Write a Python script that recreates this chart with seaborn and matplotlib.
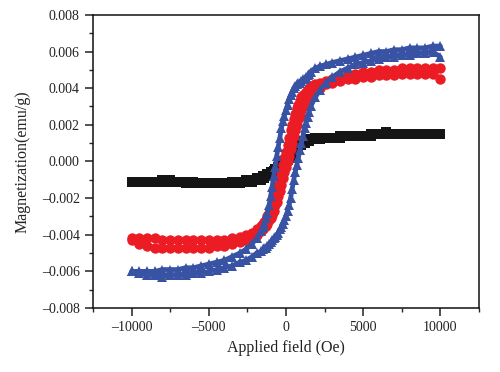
import matplotlib
matplotlib.use("Agg")
import matplotlib.pyplot as plt
import seaborn as sns
import pandas as pd
from matplotlib.ticker import MultipleLocator, FixedLocator, FixedFormatter

# ---------------- data ----------------
field_down = [10000, 9500, 9000, 8500, 8000, 7500, 7000, 6500, 6000, 5500, 5000, 4500, 4000, 3500, 3000, 2600, 2200, 1900,
              1600, 1500, 1400, 1300, 1200, 1100, 1000, 900, 800, 700, 600, 500, 400, 300, 200, 100, 0,
              -100, -200, -300, -400, -500, -600, -700, -800, -900, -1000, -1100, -1200, -1300, -1400, -1500, -1600,
              -1900, -2200, -2600, -3000, -3500, -4000, -4500, -5000, -5500, -6000, -6500, -7000, -7500, -8000, -8500, -9000, -9500, -10000]
field_up = [-10000, -9500, -9000, -8500, -8000, -7500, -7000, -6500, -6000, -5500, -5000, -4500, -4000, -3500, -3000, -2600, -2200, -1900,
            -1600, -1500, -1400, -1300, -1200, -1100, -1000, -900, -800, -700, -600, -500, -400, -300, -200, -100, 0,
            100, 200, 300, 400, 500, 600, 700, 800, 900, 1000, 1100, 1200, 1300, 1400, 1500, 1600,
            1900, 2200, 2600, 3000, 3500, 4000, 4500, 5000, 5500, 6000, 6500, 7000, 7500, 8000, 8500, 9000, 9500, 10000]

black_down = [0.0015, 0.0015, 0.0015, 0.0015, 0.0015, 0.0015, 0.0015, 0.0015, 0.0015, 0.0015, 0.0014, 0.0014, 0.0014, 0.0014, 0.0013, 0.0013, 0.0013, 0.0013,
              0.0012, 0.0012, 0.0012, 0.0012, 0.0011, 0.0011, 0.0010, 0.0010, 0.0009, 0.0008, 0.0007, 0.0006, 0.0005, 0.0004, 0.0003, 0.0002, 0.0001,
              0.0000, -0.0001, -0.0002, -0.0002, -0.0003, -0.0004, -0.0004, -0.0005, -0.0006, -0.0006, -0.0007, -0.0007, -0.0008, -0.0008, -0.0008, -0.0009,
              -0.0009, -0.0010, -0.0010, -0.0011, -0.0011, -0.0012, -0.0012, -0.0012, -0.0012, -0.0011, -0.0011, -0.0011, -0.0010, -0.0010, -0.0011, -0.0011, -0.0011, -0.0011]
black_up = [-0.0011, -0.0011, -0.0011, -0.0011, -0.0011, -0.0011, -0.0011, -0.0012, -0.0012, -0.0012, -0.0012, -0.0012, -0.0012, -0.0012, -0.0012, -0.0011, -0.0011, -0.0010,
            -0.0010, -0.0009, -0.0009, -0.0008, -0.0008, -0.0008, -0.0007, -0.0007, -0.0006, -0.0005, -0.0005, -0.0004, -0.0003, -0.0003, -0.0002, -0.0001, 0.0000,
            0.0001, 0.0002, 0.0003, 0.0004, 0.0005, 0.0006, 0.0007, 0.0008, 0.0009, 0.0009, 0.0010, 0.0010, 0.0011, 0.0011, 0.0011, 0.0012,
            0.0012, 0.0012, 0.0013, 0.0013, 0.0013, 0.0014, 0.0014, 0.0014, 0.0014, 0.0015, 0.0016, 0.0015, 0.0015, 0.0015, 0.0015, 0.0015, 0.0015, 0.0015]

red_down = [0.0051, 0.0051, 0.0051, 0.0051, 0.0051, 0.0051, 0.0050, 0.0050, 0.0050, 0.0049, 0.0049, 0.0048, 0.0047, 0.0046, 0.0045, 0.0044, 0.0043, 0.0042,
            0.0041, 0.0040, 0.0039, 0.0038, 0.0037, 0.0036, 0.0035, 0.0033, 0.0031, 0.0029, 0.0026, 0.0023, 0.0020, 0.0017, 0.0013, 0.0009, 0.0005,
            0.0002, -0.0002, -0.0006, -0.0009, -0.0013, -0.0016, -0.0019, -0.0022, -0.0024, -0.0026, -0.0028, -0.0030, -0.0032, -0.0033, -0.0034, -0.0035,
            -0.0037, -0.0039, -0.0040, -0.0041, -0.0042, -0.0043, -0.0043, -0.0043, -0.0043, -0.0043, -0.0043, -0.0043, -0.0043, -0.0043, -0.0042, -0.0042, -0.0042, -0.0042]
red_up = [-0.0043, -0.0045, -0.0046, -0.0047, -0.0047, -0.0047, -0.0047, -0.0047, -0.0047, -0.0047, -0.0047, -0.0046, -0.0046, -0.0045, -0.0044, -0.0043, -0.0042, -0.0040,
          -0.0038, -0.0037, -0.0036, -0.0035, -0.0034, -0.0032, -0.0031, -0.0029, -0.0027, -0.0024, -0.0022, -0.0019, -0.0016, -0.0013, -0.0009, -0.0006, -0.0003,
          0.0000, 0.0003, 0.0007, 0.0010, 0.0014, 0.0017, 0.0020, 0.0023, 0.0025, 0.0028, 0.0030, 0.0032, 0.0034, 0.0035, 0.0036, 0.0037,
          0.0039, 0.0040, 0.0042, 0.0043, 0.0044, 0.0045, 0.0045, 0.0046, 0.0046, 0.0047, 0.0047, 0.0047, 0.0048, 0.0048, 0.0048, 0.0048, 0.0048, 0.0045]

blue_down = [0.0063, 0.0063, 0.0062, 0.0062, 0.0062, 0.0061, 0.0061, 0.0060, 0.0060, 0.0059, 0.0058, 0.0057, 0.0056, 0.0055, 0.0054, 0.0053, 0.0052, 0.0051,
             0.0049, 0.0048, 0.0047, 0.0046, 0.0045, 0.0045, 0.0044, 0.0043, 0.0043, 0.0042, 0.0041, 0.0040, 0.0038, 0.0036, 0.0034, 0.0031, 0.0028,
             0.0025, 0.0022, 0.0018, 0.0013, 0.0008, 0.0003, -0.0003, -0.0008, -0.0014, -0.0019, -0.0024, -0.0028, -0.0031, -0.0034, -0.0036, -0.0038,
             -0.0042, -0.0045, -0.0048, -0.0050, -0.0052, -0.0054, -0.0055, -0.0056, -0.0057, -0.0058, -0.0058, -0.0059, -0.0059, -0.0059, -0.0060, -0.0060, -0.0060, -0.0060]
blue_up = [-0.0060, -0.0061, -0.0062, -0.0062, -0.0063, -0.0062, -0.0062, -0.0062, -0.0061, -0.0061, -0.0060, -0.0059, -0.0058, -0.0057, -0.0055, -0.0054, -0.0052, -0.0050,
           -0.0049, -0.0048, -0.0047, -0.0047, -0.0046, -0.0045, -0.0044, -0.0043, -0.0042, -0.0041, -0.0040, -0.0039, -0.0037, -0.0036, -0.0034, -0.0032, -0.0030,
           -0.0027, -0.0024, -0.0020, -0.0015, -0.0010, -0.0006, -0.0002, 0.0002, 0.0006, 0.0010, 0.0014, 0.0018, 0.0021, 0.0024, 0.0027, 0.0030,
           0.0035, 0.0039, 0.0043, 0.0046, 0.0049, 0.0051, 0.0053, 0.0054, 0.0055, 0.0056, 0.0057, 0.0057, 0.0058, 0.0058, 0.0059, 0.0059, 0.0060, 0.0057]

x_ticks = [-10000, -5000, 0, 5000, 10000]
x_tick_labels = ["\u201310000", "\u20135000", "0", "5000", "10000"]
y_ticks = [-0.008, -0.006, -0.004, -0.002, 0.000, 0.002, 0.004, 0.006, 0.008]
y_tick_labels = ["\u20130.008", "\u20130.006", "\u20130.004", "\u20130.002", "0.000", "0.002", "0.004", "0.006", "0.008"]

# ---------------- build table ----------------
frames = []
for name, dn, up in [("black", black_down, black_up), ("red", red_down, red_up), ("blue", blue_down, blue_up)]:
    f = field_down + field_up
    m = dn + up
    frames.append(pd.DataFrame({"field": f, "mag": m, "sample": name, "idx": range(len(f))}))
df = pd.concat(frames, ignore_index=True)

sns.set_theme(style="ticks")
plt.rcParams["font.family"] = ["Liberation Serif", "DejaVu Serif"]
plt.rcParams["axes.linewidth"] = 1.1

fig = plt.figure(figsize=(5.0, 3.72), dpi=100)
ax = fig.add_axes([0.186, 0.172, 0.772, 0.788])

styles = {"black": ("#151515", "s", 7.0), "red": ("#ec1c24", "o", 7.5), "blue": ("#3953a4", "^", 7.5)}
for name in ["black", "red", "blue"]:
    col, mk, ms = styles[name]
    sub = df[df["sample"] == name]
    # dense band look: thick line under the markers
    sns.lineplot(data=sub, x="field", y="mag", sort=False, estimator=None, ax=ax,
                 color=col, linewidth=3.4, legend=False)
    sns.lineplot(data=sub, x="field", y="mag", sort=False, estimator=None, ax=ax,
                 color=col, marker=mk, markersize=ms, markeredgewidth=0,
                 markeredgecolor=col, linewidth=1.2, legend=False)

ax.set_xlim(-12500, 12500)
ax.set_ylim(-0.008, 0.008)
ax.xaxis.set_major_locator(FixedLocator(x_ticks))
ax.xaxis.set_major_formatter(FixedFormatter(x_tick_labels))
ax.yaxis.set_major_locator(FixedLocator(y_ticks))
ax.yaxis.set_major_formatter(FixedFormatter(y_tick_labels))
ax.xaxis.set_minor_locator(MultipleLocator(2500))
ax.yaxis.set_minor_locator(MultipleLocator(0.001))
ax.tick_params(which="major", direction="out", length=6, width=1.1, labelsize=10, colors="#222222",
               top=False, right=False)
ax.tick_params(which="minor", direction="out", length=3, width=1.0, top=False, right=False)
for s in ax.spines.values():
    s.set_visible(True)
    s.set_color("#111111")

ax.set_xlabel("Applied field (Oe)", fontsize=11.5, color="#222222", labelpad=4)
ax.set_ylabel("Magnetization(emu/g)", fontsize=11.5, color="#222222", labelpad=8)

fig.savefig("out.png", dpi=100)
